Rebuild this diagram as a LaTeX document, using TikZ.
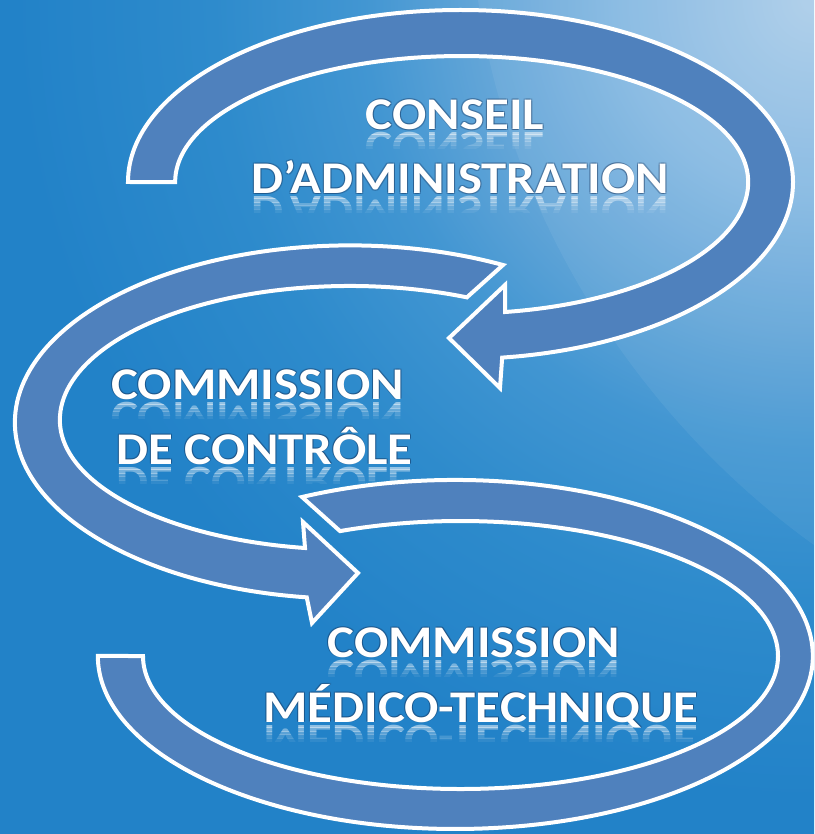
\documentclass[tikz,border=0pt]{standalone}
\usepackage{fontspec}
\setmainfont{Carlito}

\definecolor{fondbleu}{RGB}{34,130,200}
\definecolor{fondA}{RGB}{172,205,233}
\definecolor{fondB}{RGB}{132,184,226}
\definecolor{fondC}{RGB}{100,166,216}
\definecolor{fondD}{RGB}{66,150,210}
\definecolor{fondE}{RGB}{46,139,204}
\definecolor{flechebleu}{RGB}{79,129,189}
\definecolor{ombre}{RGB}{18,45,85}

\pgfdeclareradialshading{lueur}{\pgfpoint{0bp}{0bp}}{color(0bp)=(fondA); color(5bp)=(fondB);
  color(8.25bp)=(fondC); color(11.25bp)=(fondD); color(15bp)=(fondE); color(20bp)=(fondbleu); color(50bp)=(fondbleu)}

\tikzset{
  fleche/.style={fill=flechebleu, draw=white, line width=3pt, line join=miter},
  lbl/.style={text=white, font=\bfseries\fontsize{34}{40}\selectfont, xscale=1.12, inner sep=0pt, anchor=base}
}

% nom, x, ligne de base, texte
\newcommand{\etiquette}[4]{%
  \foreach \dx/\dy in {0.8/0.8,-0.8/0.8,0.8/-0.8,-0.8/-0.8}
    \node[lbl, text=ombre, opacity=0.3] at (#2+\dx,#3+\dy) {#4};
  \node[lbl] (#1) at (#2,#3) {#4};
  \foreach \k/\op in {0/0.5,1/0.38,2/0.26,3/0.16,4/0.07}
    {\begin{scope}
      \clip (0,#3+2+\k*3.5) rectangle (814,#3+5.5+\k*3.5);
      \node[lbl, opacity=\op, yscale=-1] at (#2,#3+3) {#4};
    \end{scope}}}

\begin{document}
\begin{tikzpicture}[x=0.75pt,y=-0.75pt]
\useasboundingbox (0,0) rectangle (814,834);
\clip (0,0) rectangle (814,834);

% fond
\fill[fondbleu] (0,0) rectangle (814,834);
\shade[shading=lueur] (814,0) circle (1000);
\fill[white, opacity=0.06] (478,0) .. controls (510,220) and (640,420) .. (814,545) -- (814,0) -- cycle;

% fleche du haut
\draw[fleche] (128,182) arc[start angle=180, end angle=360, x radius=332.5, y radius=172]
  arc[start angle=0, end angle=82.8, x radius=332.5, y radius=177]
  -- (500,388) -- (449,338) -- (505,285) -- (505,312)
  arc[start angle=81.3, end angle=0, x radius=286.5, y radius=131.5]
  arc[start angle=360, end angle=180, x radius=286.5, y radius=126] -- cycle;

% fleche du milieu
\draw[fleche] (503,265) arc[start angle=-62.8, end angle=-180, x radius=335, y radius=177]
  arc[start angle=180, end angle=97.4, x radius=335, y radius=176.4]
  -- (312,623) -- (358,573) -- (303,522) -- (305,548)
  arc[start angle=98.9, end angle=180, x radius=290, y radius=129.6]
  arc[start angle=180, end angle=293.8, x radius=290, y radius=134] -- cycle;

% fleche du bas
\draw[fleche] (302,497) arc[start angle=244.6, end angle=360, x radius=357.5, y radius=176]
  arc[start angle=0, end angle=180, x radius=357.5, y radius=173]
  -- (143,656)
  arc[start angle=180, end angle=0, x radius=317.5, y radius=133]
  arc[start angle=360, end angle=247.7, x radius=317.5, y radius=135] -- cycle;

% textes
\etiquette{conseil}{455}{129.5}{CONSEIL}
\etiquette{admin}{460}{193.5}{D’ADMINISTRATION}
\etiquette{commA}{257.5}{399}{COMMISSION}
\etiquette{controle}{264.5}{464}{DE CONTRÔLE}
\etiquette{commB}{474}{657}{COMMISSION}
\etiquette{medico}{481}{722}{MÉDICO-TECHNIQUE}
\end{tikzpicture}
\end{document}
